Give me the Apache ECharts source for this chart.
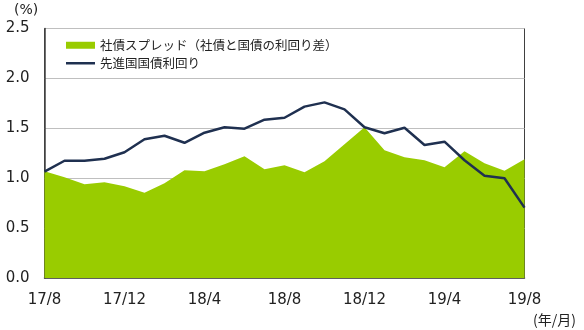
<!DOCTYPE html>
<html><head><meta charset="utf-8">
<script src="https://cdn.jsdelivr.net/npm/echarts@6/dist/echarts.min.js"></script>
<style>html,body{margin:0;padding:0;background:#fff}#c{width:584px;height:330px}</style>
</head><body><div id="c"></div>
<script>
var categories = ['17/8','17/9','17/10','17/11','17/12','18/1','18/2','18/3','18/4','18/5','18/6','18/7','18/8','18/9','18/10','18/11','18/12','19/1','19/2','19/3','19/4','19/5','19/6','19/7','19/8'];
var spread = [1.07,1.01,0.94,0.96,0.92,0.855,0.95,1.08,1.07,1.14,1.22,1.09,1.13,1.06,1.17,1.34,1.51,1.28,1.21,1.18,1.11,1.27,1.15,1.075,1.19];
var yields = [1.065,1.175,1.175,1.195,1.26,1.39,1.425,1.355,1.456,1.51,1.496,1.586,1.606,1.717,1.76,1.69,1.51,1.45,1.505,1.333,1.366,1.18,1.025,1.0,0.705];
var yTicks = [0, 0.5, 1.0, 1.5, 2.0, 2.5];
var seriesNames = ['社債スプレッド（社債と国債の利回り差）', '先進国国債利回り'];

var chart = echarts.init(document.getElementById('c'), null, {renderer:'canvas'});
var numFont = 'DejaVu Sans, Verdana, sans-serif';
var cjkFont = '"Noto Sans CJK JP", sans-serif';
chart.setOption({
  animation:false,
  backgroundColor:'#fff',
  grid:{left:44.5, right:59.5, top:28.5, bottom:52, show:true, borderColor:'#404040', borderWidth:1, backgroundColor:'transparent'},
  legend:[{
    data:[{name:seriesNames[0], icon:'rect'}], left:66, top:39, padding:0, itemWidth:29, itemHeight:7,
    textStyle:{fontFamily:cjkFont, fontSize:12.5, color:'#222'}
  },{
    data:[{name:seriesNames[1], icon:'rect'}], left:66, top:57, padding:0, itemWidth:29, itemHeight:2.5,
    textStyle:{fontFamily:cjkFont, fontSize:12.5, color:'#222'}
  }],
  xAxis:{
    type:'category', data:categories, boundaryGap:false,
    axisLine:{lineStyle:{color:'#404040', width:1.5}},
    axisTick:{inside:true, length:5, interval:3, alignWithLabel:true, lineStyle:{color:'#404040'}},
    axisLabel:{interval:3, fontFamily:numFont, fontSize:15, color:'#222', margin:15},
    splitLine:{show:false}
  },
  yAxis:{
    type:'value', min:0, max:2.5, interval:0.5,
    axisLine:{show:true, lineStyle:{color:'#404040', width:1.5}},
    axisTick:{show:false},
    axisLabel:{fontFamily:numFont, fontSize:15, color:'#222', margin:15,
      formatter:function(v){return v.toFixed(1);}},
    splitLine:{lineStyle:{color:'#bfbfbf', width:1}}
  },
  graphic:[
    {type:'text', left:14, top:3, style:{text:'(%)', font:'14px '+numFont, fill:'#222'}},
    {type:'text', left:533, top:313, style:{text:'(年/月)', font:'14px '+cjkFont, fill:'#222'}}
  ],
  series:[{
    name:seriesNames[0], type:'line', data:spread, symbol:'none',
    itemStyle:{color:'#99cc00'}, lineStyle:{width:0, color:'#99cc00'},
    areaStyle:{color:'#99cc00', opacity:1}, z:2
  },{
    name:seriesNames[1], type:'line', data:yields, symbol:'none',
    itemStyle:{color:'#1f3050'}, lineStyle:{width:2.5, color:'#1f3050'}, z:3
  }]
});
</script></body></html>
